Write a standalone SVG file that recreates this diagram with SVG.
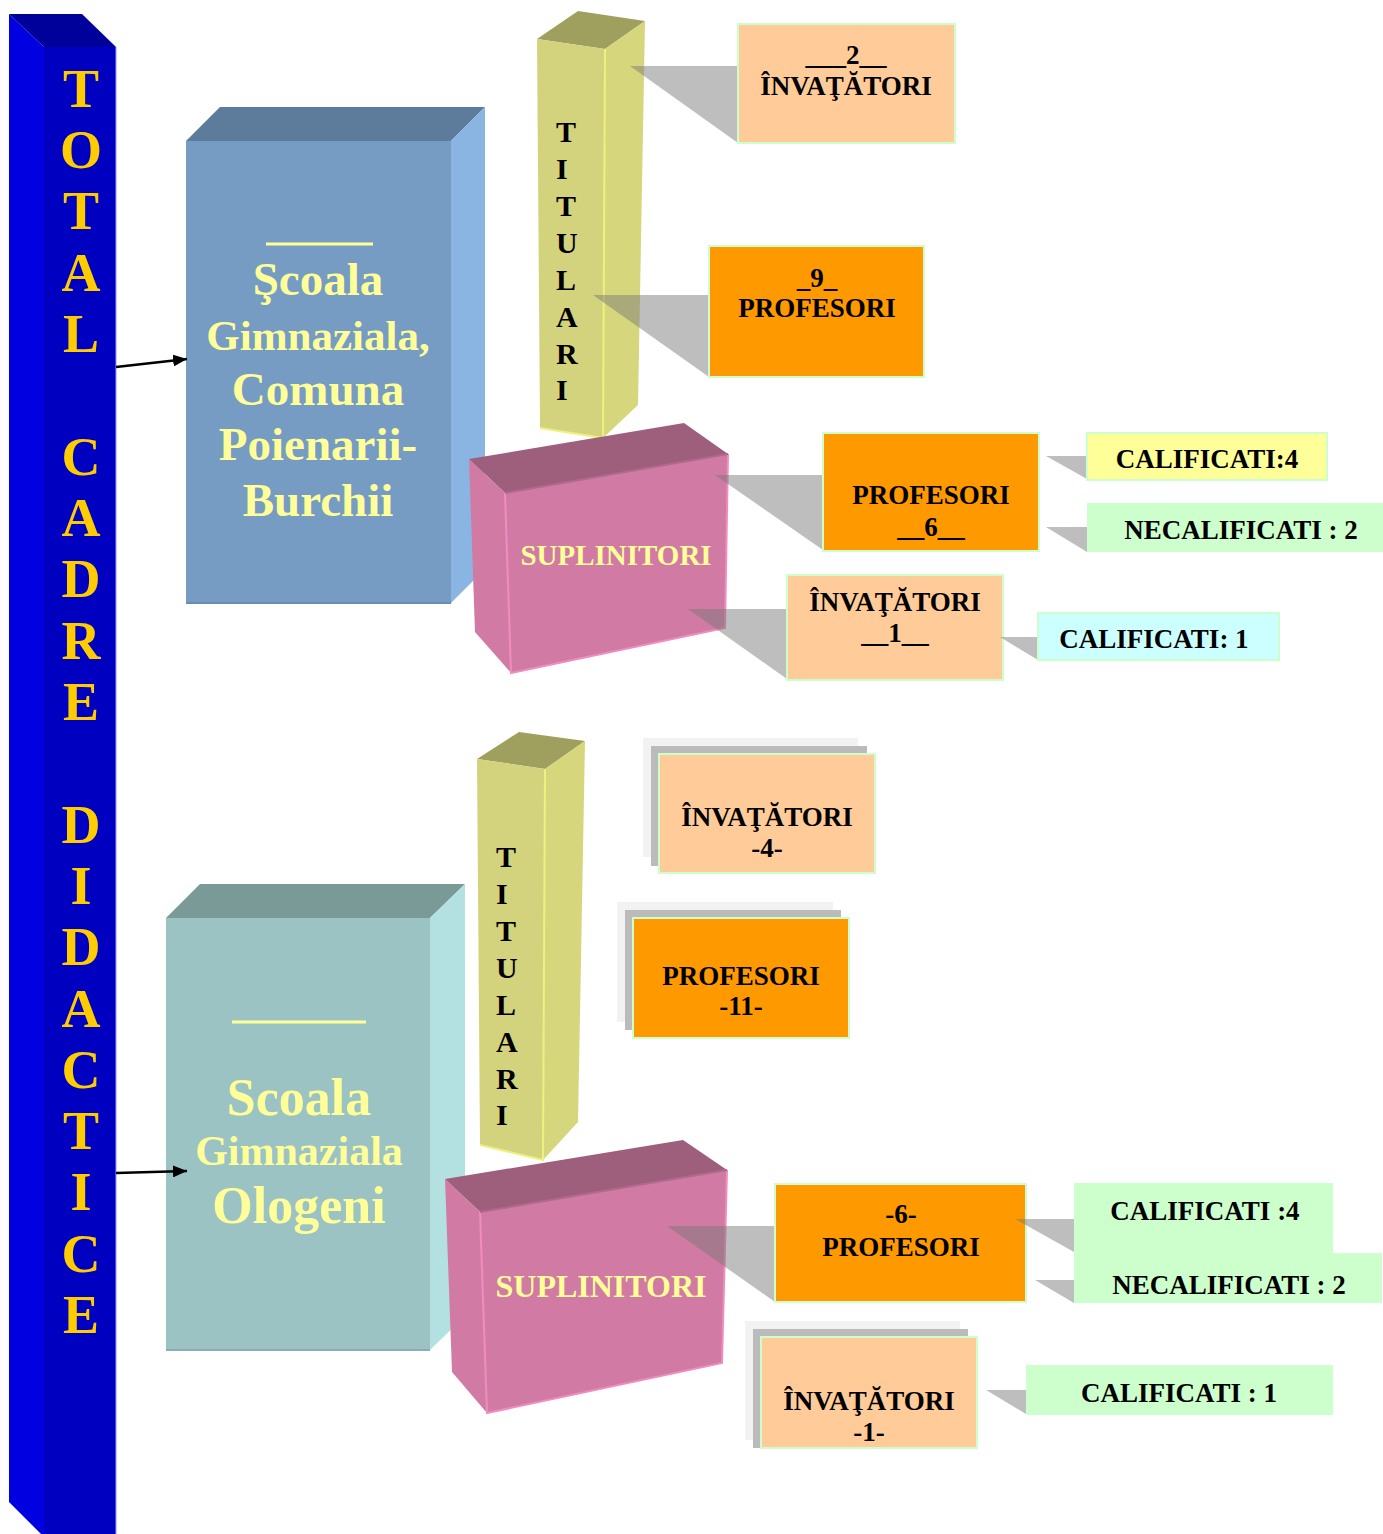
<svg xmlns="http://www.w3.org/2000/svg" width="1383" height="1534" viewBox="0 0 1383 1534">
<style>
.t{font-family:"Liberation Serif","Times New Roman",serif;font-weight:bold}
.big{fill:#FFCC00;font-size:54px}
.sch{fill:#FFFF99;text-anchor:middle}
.tit{fill:#000;font-size:30px}
.lbl{fill:#000;font-size:27px;text-anchor:middle}
.sup{fill:#FFFF99;text-anchor:middle}
.co{fill:#787878;fill-opacity:0.48}
.bx{stroke:#CCFFCC;stroke-width:2}
.sh1{fill:#F2F2F2}
.sh2{fill:#BBBBBB}
</style>
<defs>
<marker id="ah" viewBox="0 0 14 12" refX="14" refY="6" markerWidth="14" markerHeight="12" markerUnits="userSpaceOnUse" orient="auto">
<path d="M0,0 L14,6 L0,12 z" fill="#000"/>
</marker>
</defs>
<rect width="1383" height="1534" fill="#FFFFFF"/>

<g id="total">
<polygon points="9,14 82,14 116,47 44,47" fill="#00009A"/>
<polygon points="9,14 44,47 44,1534 41,1534 9,1502" fill="#0000E0"/>
<rect x="44" y="47" width="72" height="1487" fill="#0000C0"/>
<line x1="116" y1="47" x2="116" y2="1534" stroke="#9999FF" stroke-width="1"/>
<g class="t big" text-anchor="middle">
<text x="81" y="107">T</text>
<text x="81" y="168">O</text>
<text x="81" y="229">T</text>
<text x="81" y="291">A</text>
<text x="81" y="352">L</text>
<text x="81" y="475">C</text>
<text x="81" y="536">A</text>
<text x="81" y="597">D</text>
<text x="81" y="659">R</text>
<text x="81" y="720">E</text>
<text x="81" y="843">D</text>
<text x="81" y="904">I</text>
<text x="81" y="965">D</text>
<text x="81" y="1027">A</text>
<text x="81" y="1088">C</text>
<text x="81" y="1149">T</text>
<text x="81" y="1210">I</text>
<text x="81" y="1272">C</text>
<text x="81" y="1333">E</text>
</g>
</g>

<g id="school1">
<polygon points="186,141 220,107 485,107 451,141" fill="#5D7B9B"/>
<polygon points="451,141 485,107 485,569 451,603" fill="#8AB5E2"/>
<rect x="186" y="141" width="265" height="462" fill="#769CC4"/>
<line x1="186" y1="603" x2="451" y2="603" stroke="#6A8CB0" stroke-width="2"/>
<line x1="266" y1="244" x2="373" y2="244" stroke="#FFFF99" stroke-width="3"/>
<g class="t sch">
<text x="318" y="295" font-size="47">Şcoala</text>
<text x="318" y="350" font-size="43">Gimnaziala,</text>
<text x="318" y="405" font-size="47">Comuna</text>
<text x="318" y="460" font-size="47">Poienarii-</text>
<text x="318" y="516" font-size="47">Burchii</text>
</g>
</g>

<g id="titulari1">
<polygon points="537,39 578,11 645,21 605,49" fill="#A0A05E"/>
<polygon points="605,49 645,21 638,405 603,438" fill="#D6D67C"/>
<polygon points="537,39 605,49 603,438 540,428" fill="#D3D37E"/>
<polyline points="605,49 603,438 540,428" fill="none" stroke="#F0F080" stroke-width="2"/>
<g class="t tit">
<text x="556" y="142">T</text>
<text x="556" y="179">I</text>
<text x="556" y="216">T</text>
<text x="556" y="253">U</text>
<text x="556" y="290">L</text>
<text x="556" y="327">A</text>
<text x="556" y="364">R</text>
<text x="556" y="400">I</text>
</g>
</g>

<g id="inv2">
<polygon class="co" points="630,66 738,66 738,143"/>
<rect class="bx" x="738" y="24" width="217" height="119" fill="#FFCC99"/>
<text class="t lbl" x="846" y="64" font-size="29">___2__</text>
<text class="t lbl" x="846" y="95">ÎNVAŢĂTORI</text>
</g>

<g id="prof9">
<polygon class="co" points="593,295 709,295 709,377"/>
<rect class="bx" x="709" y="246" width="215" height="131" fill="#FF9900"/>
<text class="t lbl" x="817" y="287">_9_</text>
<text class="t lbl" x="817" y="317">PROFESORI</text>
</g>

<g id="supl1">
<polygon points="469,459 684,423 728,454 505,493" fill="#9E5F7D"/>
<polygon points="469,459 505,493 511,673 475,632" fill="#D17BA4"/>
<polygon points="505,493 728,454 725,628 511,673" fill="#D17BA4"/>
<polyline points="505,493 511,673 725,628 728,454" fill="none" stroke="#F08CC0" stroke-width="2"/>
<line x1="505" y1="493" x2="728" y2="454" stroke="#B06A8C" stroke-width="2"/>
<text class="t sup" x="616" y="565" font-size="29">SUPLINITORI</text>
</g>

<g id="prof6">
<polygon class="co" points="715,475 823,475 823,550"/>
<rect class="bx" x="823" y="433" width="216" height="118" fill="#FF9900"/>
<text class="t lbl" x="931" y="504">PROFESORI</text>
<text class="t lbl" x="931" y="536">__6__</text>
</g>

<g id="inv1">
<polygon class="co" points="688,609 787,609 787,679"/>
<rect class="bx" x="787" y="575" width="216" height="105" fill="#FFCC99"/>
<text class="t lbl" x="895" y="611">ÎNVAŢĂTORI</text>
<text class="t lbl" x="895" y="642">__1__</text>
</g>

<g id="calif4">
<polygon class="co" points="1046,456 1087,456 1087,479"/>
<rect class="bx" x="1087" y="433" width="240" height="47" fill="#FFFF99"/>
<text class="t lbl" x="1207" y="468">CALIFICATI:4</text>
</g>

<g id="necalif2">
<polygon class="co" points="1046,527 1087,527 1087,552"/>
<rect x="1087" y="503" width="296" height="49" fill="#CCFFCC"/>
<text class="t lbl" x="1241" y="539">NECALIFICATI : 2</text>
</g>

<g id="calif1">
<polygon class="co" points="1000,637 1038,637 1038,660"/>
<rect class="bx" x="1038" y="613" width="241" height="47" fill="#CCFFFF"/>
<text class="t lbl" x="1154" y="648">CALIFICATI: 1</text>
</g>

<g id="titulari2">
<polygon points="477,759 519,732 585,741 545,769" fill="#A0A05E"/>
<polygon points="545,769 585,741 578,1122 543,1160" fill="#D6D67C"/>
<polygon points="477,759 545,769 543,1160 480,1145" fill="#D3D37E"/>
<polyline points="545,769 543,1160 480,1145" fill="none" stroke="#F0F080" stroke-width="2"/>
<g class="t tit">
<text x="496" y="867">T</text>
<text x="496" y="904">I</text>
<text x="496" y="941">T</text>
<text x="496" y="978">U</text>
<text x="496" y="1015">L</text>
<text x="496" y="1052">A</text>
<text x="496" y="1089">R</text>
<text x="496" y="1125">I</text>
</g>
</g>

<g id="inv4">
<rect class="sh1" x="643" y="738" width="215" height="119"/>
<rect class="sh2" x="651" y="746" width="216" height="120"/>
<rect class="bx" x="659" y="754" width="216" height="119" fill="#FFCC99"/>
<text class="t lbl" x="767" y="826">ÎNVAŢĂTORI</text>
<text class="t lbl" x="767" y="857">-4-</text>
</g>

<g id="prof11">
<rect class="sh1" x="617" y="902" width="216" height="120"/>
<rect class="sh2" x="625" y="910" width="216" height="120"/>
<rect class="bx" x="633" y="918" width="216" height="120" fill="#FF9900"/>
<text class="t lbl" x="741" y="985">PROFESORI</text>
<text class="t lbl" x="741" y="1015">-11-</text>
</g>

<g id="school2">
<polygon points="166,918 200,884 465,884 430,918" fill="#7A9A98"/>
<polygon points="430,918 465,884 465,1316 430,1350" fill="#B3E1E1"/>
<rect x="166" y="918" width="264" height="432" fill="#9CC3C3"/>
<line x1="166" y1="1350" x2="430" y2="1350" stroke="#88B0B0" stroke-width="2"/>
<line x1="232" y1="1022" x2="366" y2="1022" stroke="#FFFF99" stroke-width="3"/>
<g class="t sch">
<text x="299" y="1115" font-size="52">Scoala</text>
<text x="299" y="1165" font-size="42">Gimnaziala</text>
<text x="299" y="1223" font-size="52">Ologeni</text>
</g>
</g>

<g id="supl2">
<polygon points="445,1179 683,1140 727,1170 480,1212" fill="#9E5F7D"/>
<polygon points="445,1179 480,1212 487,1413 452,1372" fill="#D17BA4"/>
<polygon points="480,1212 727,1170 722,1363 487,1413" fill="#D17BA4"/>
<polyline points="480,1212 487,1413 722,1363 727,1170" fill="none" stroke="#F08CC0" stroke-width="2"/>
<line x1="480" y1="1212" x2="727" y2="1170" stroke="#B06A8C" stroke-width="2"/>
<text class="t sup" x="601" y="1297" font-size="32">SUPLINITORI</text>
</g>

<g id="prof6b">
<polygon class="co" points="667,1226 775,1226 775,1302"/>
<rect class="bx" x="775" y="1184" width="251" height="118" fill="#FF9900"/>
<text class="t lbl" x="901" y="1223">-6-</text>
<text class="t lbl" x="901" y="1256">PROFESORI</text>
</g>

<g id="calif4b">
<polygon class="co" points="1015,1219 1074,1219 1074,1252"/>
<rect x="1074" y="1183" width="259" height="71" fill="#CCFFCC"/>
<text class="t lbl" x="1205" y="1220">CALIFICATI :4</text>
</g>

<g id="necalif2b">
<polygon class="co" points="1035,1280 1074,1280 1074,1303"/>
<rect x="1074" y="1253" width="308" height="50" fill="#CCFFCC"/>
<text class="t lbl" x="1229" y="1294">NECALIFICATI : 2</text>
</g>

<g id="inv1b">
<rect class="sh1" x="745" y="1321" width="215" height="119"/>
<rect class="sh2" x="753" y="1329" width="215" height="119"/>
<rect class="bx" x="761" y="1337" width="216" height="111" fill="#FFCC99"/>
<text class="t lbl" x="869" y="1410">ÎNVAŢĂTORI</text>
<text class="t lbl" x="869" y="1441">-1-</text>
</g>

<g id="calif1b">
<polygon class="co" points="986,1390 1026,1390 1026,1414"/>
<rect x="1026" y="1365" width="307" height="50" fill="#CCFFCC"/>
<text class="t lbl" x="1179" y="1402">CALIFICATI : 1</text>
</g>

<g id="connectors">
<line x1="116" y1="367" x2="187" y2="359" stroke="#000" stroke-width="2.5" marker-end="url(#ah)"/>
<line x1="116" y1="1173" x2="187" y2="1171" stroke="#000" stroke-width="2.5" marker-end="url(#ah)"/>
</g>
</svg>
